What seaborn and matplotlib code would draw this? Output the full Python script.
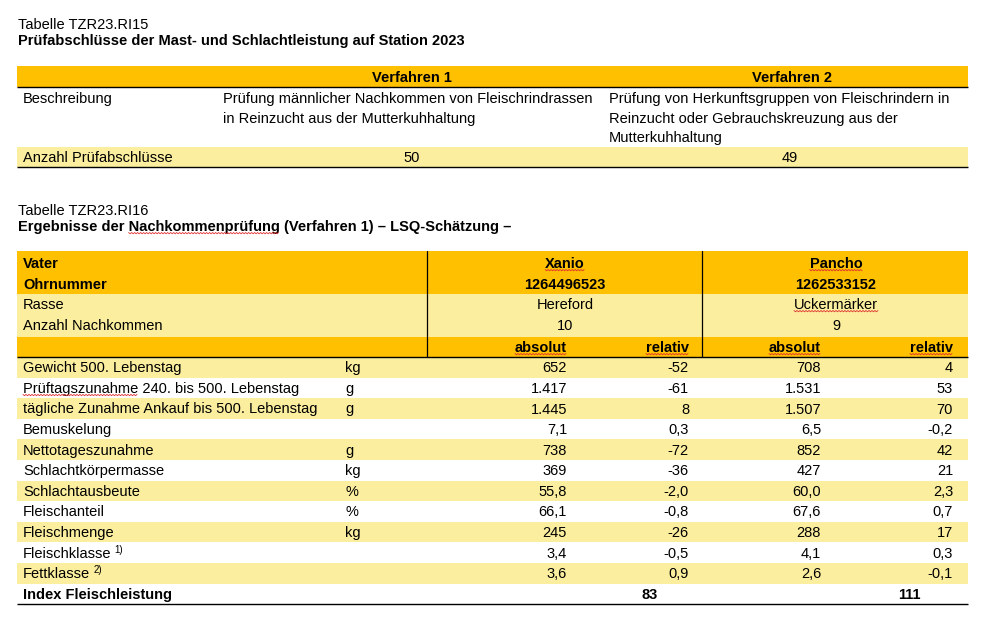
import numpy as np
import seaborn as sns
import matplotlib.pyplot as plt
from matplotlib.patches import Rectangle

sns.set_theme(style="white")
plt.rcParams['font.family'] = ['Liberation Sans', 'DejaVu Sans']

orange = '#FFC000'
lightyellow = '#FBEE9F'
fs = 10.5

#%% data table 1
t1_title = 'Tabelle TZR23.RI15'
t1_subtitle = 'Prüfabschlüsse der Mast- und Schlachtleistung auf Station 2023'
t1_cols = ['Verfahren 1', 'Verfahren 2']
t1_desc = [['Prüfung männlicher Nachkommen von Fleischrindrassen',
            'in Reinzucht aus der Mutterkuhhaltung'],
           ['Prüfung von Herkunftsgruppen von Fleischrindern in',
            'Reinzucht oder Gebrauchskreuzung aus der',
            'Mutterkuhhaltung']]
t1_count = [50, 49]

#%% data table 2
t2_title = 'Tabelle TZR23.RI16'
t2_subtitle = 'Ergebnisse der Nachkommenprüfung (Verfahren 1) – LSQ-Schätzung –'
sires = ['Xanio', 'Pancho']
ear_ids = ['1264496523', '1262533152']
breeds = ['Hereford', 'Uckermärker']
offspring = [10, 9]
traits = ['Gewicht 500. Lebenstag', 'Prüftagszunahme 240. bis 500. Lebenstag',
          'tägliche Zunahme Ankauf bis 500. Lebenstag', 'Bemuskelung',
          'Nettotageszunahme', 'Schlachtkörpermasse', 'Schlachtausbeute',
          'Fleischanteil', 'Fleischmenge', 'Fleischklasse', 'Fettklasse']
footnotes = ['', '', '', '', '', '', '', '', '', '1)', '2)']
units = ['kg', 'g', 'g', '', 'g', 'kg', '%', '%', 'kg', '', '']
decimals = [0, 0, 0, 1, 0, 0, 1, 1, 0, 1, 1]
xanio_abs = [652, 1417, 1445, 7.1, 738, 369, 55.8, 66.1, 245, 3.4, 3.6]
xanio_rel = [-52, -61, 8, 0.3, -72, -36, -2.0, -0.8, -26, -0.5, 0.9]
pancho_abs = [708, 1531, 1507, 6.5, 852, 427, 60.0, 67.6, 288, 4.1, 2.6]
pancho_rel = [4, 53, 70, -0.2, 42, 21, 2.3, 0.7, 17, 0.3, -0.1]
index_label = 'Index Fleischleistung'
index_vals = [83, 111]


def de(v, d):
    # German number format: 1.417 / 55,8
    s = f'{v:,.{d}f}'
    return s.replace(',', 'X').replace('.', ',').replace('X', '.')


fig = plt.figure(figsize=(9.93, 6.32), dpi=100)
ax = fig.add_axes([0, 0, 1, 1])
ax.set_xlim(0, 993)
ax.set_ylim(632, 0)
ax.axis('off')

L, R = 17, 968
tx = 23


def band(y0, y1, c, x0=L, x1=R):
    ax.add_patch(Rectangle((x0, y0), x1 - x0, y1 - y0, color=c, lw=0, zorder=0))


def hline(y, lw=1.0):
    ax.plot([L, R], [y, y], color='black', lw=lw, zorder=2, solid_capstyle='butt')


def txt(x, y, s, ha='left', bold=False, size=fs):
    return ax.text(x, y, s, ha=ha, va='baseline', fontsize=size,
                   fontweight='bold' if bold else 'normal', color='black', zorder=3)


wavy = []

#%% table 1
txt(18, 29, t1_title)
txt(18, 45, t1_subtitle, bold=True)

band(66, 87, orange)
hline(87)
col1_c = [412, 792]
col1_x = [223, 609]
for i, c in enumerate(t1_cols):
    txt(col1_c[i], 81.5, c, ha='center', bold=True)

txt(tx, 103, 'Beschreibung')
for i, lines in enumerate(t1_desc):
    for j, ln in enumerate(lines):
        txt(col1_x[i], 103 + 19.5 * j, ln)

band(147, 167, lightyellow)
hline(167)
txt(tx, 162, 'Anzahl Prüfabschlüsse')
for i, n in enumerate(t1_count):
    txt(col1_c[i] - (2 if i else 0), 162, str(n), ha='center')

#%% table 2
txt(18, 215, t2_title)
st = txt(18, 231, t2_subtitle, bold=True)

band(251, 294, orange)
band(294, 337, lightyellow)
band(337, 357, orange)
hline(357)
for vx in [427, 702]:
    ax.plot([vx, vx], [251, 357], color='black', lw=0.9, zorder=2)

txt(tx, 268, 'Vater', bold=True)
txt(tx, 289, 'Ohrnummer', bold=True)
txt(tx, 309, 'Rasse')
txt(tx, 330, 'Anzahl Nachkommen')

sire_c = [565, 836]
abs_r = [567, 821]
rel_r = [689, 953]
for i in range(2):
    wavy.append(txt(sire_c[i], 268, sires[i], ha='center', bold=True))
    txt(sire_c[i], 289, ear_ids[i], ha='center', bold=True)
    t = txt(sire_c[i], 309, breeds[i], ha='center')
    if i == 1:
        wavy.append(t)
    txt(sire_c[i], 330, str(offspring[i]), ha='center')
    wavy.append(txt(abs_r[i], 352, 'absolut', ha='right', bold=True))
    wavy.append(txt(rel_r[i], 352, 'relativ', ha='right', bold=True))

top, rh = 357, 20.6
unit_x = 345
cols = [(xanio_abs, abs_r[0]), (xanio_rel, rel_r[0]),
        (pancho_abs, abs_r[1]), (pancho_rel, rel_r[1])]
foot_txt = []
for k, tr in enumerate(traits):
    y0 = top + rh * k
    if k % 2 == 0:
        band(y0, y0 + rh, lightyellow)
    bl = y0 + rh / 2 + 5
    t = txt(tx, bl, tr)
    if k == 1:
        wavy.append((t, 'Prüftagszunahme'))
    if footnotes[k]:
        foot_txt.append((t, footnotes[k], bl))
    txt(unit_x, bl, units[k])
    for vals, xr in cols:
        txt(xr, bl, de(vals[k], decimals[k]), ha='right')

yi = top + rh * len(traits)
bl = yi + rh / 2 + 5
txt(tx, bl, index_label, bold=True)
idx_c = [650, 909]
for i, v in enumerate(index_vals):
    txt(idx_c[i], bl, str(v), ha='center', bold=True)
hline(top + rh * (len(traits) + 1))

#%% superscripts and spellcheck marks, placed from measured text extents
fig.canvas.draw()
rend = fig.canvas.get_renderer()
H = 632


def extent(t):
    bb = t.get_window_extent(rend)
    return bb.x0, bb.x1, H - bb.y0


for t, s, b in foot_txt:
    x0, x1, yb = extent(t)
    txt(x1 + 3, b - 5, s, size=7)


def measure(s, bold):
    tmp = ax.text(0, 0, s, fontsize=fs, fontweight='bold' if bold else 'normal')
    w = tmp.get_window_extent(rend).width
    tmp.remove()
    return w


def zigzag(x0, x1, y):
    xs = np.arange(x0, x1 + 0.1, 1.5)
    ys = y + np.where(np.arange(len(xs)) % 2 == 0, 0.0, 1.3)
    ax.plot(xs, ys, color='#E03030', lw=0.6, zorder=4)


for item in wavy:
    if isinstance(item, tuple):
        t, word = item
        x0, x1, yb = extent(t)
        zigzag(x0, x0 + measure(word, False), yb - 1.5)
    else:
        x0, x1, yb = extent(item)
        zigzag(x0, x1, yb - 1.5)

# underline the word in the second subtitle
x0, x1, yb = extent(st)
pre = measure('Ergebnisse der ', True)
word = measure('Nachkommenprüfung', True)
zigzag(x0 + pre, x0 + pre + word, yb - 1.5)

plt.savefig('out.png', dpi=100)
